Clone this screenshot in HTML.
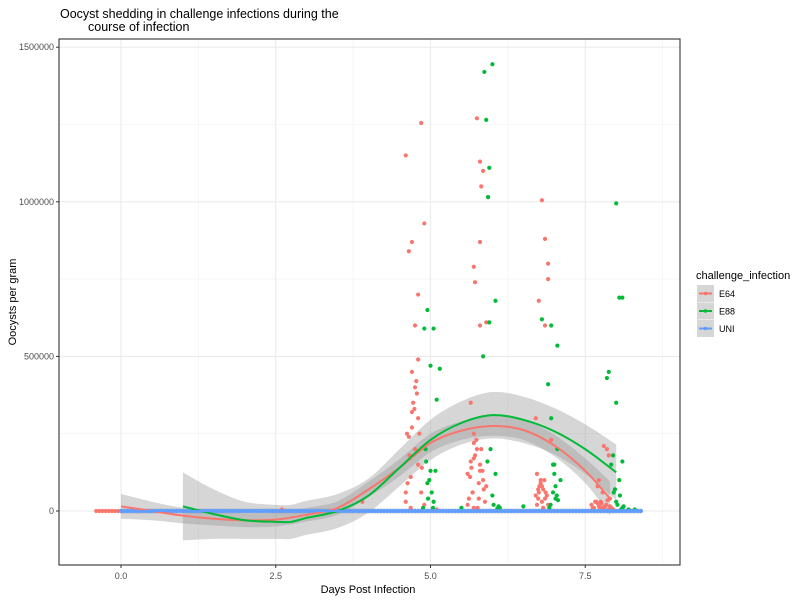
<!DOCTYPE html>
<html><head><meta charset="utf-8"><style>
body{margin:0;background:#fff;font-family:"Liberation Sans",Arial,sans-serif}
svg text{font-family:"Liberation Sans",Arial,sans-serif}
</style></head><body>
<svg id="c" width="800" height="600" xmlns="http://www.w3.org/2000/svg">
<rect width="800" height="600" fill="#fff"/>
<text x="60" y="18" font-size="12.5" fill="#000">Oocyst shedding in challenge infections during the</text>
<text x="88" y="31" font-size="12.5" fill="#000">course of infection</text>
<g id="grid"></g><g id="bands"></g><g id="pts"></g><g id="lines"></g><g id="axes"></g>
<text x="368" y="593" font-size="11" text-anchor="middle" fill="#000">Days Post Infection</text>
<text transform="translate(16,302) rotate(-90)" font-size="11" text-anchor="middle" fill="#000">Oocysts per gram</text>
<g id="legend"></g>
</svg>
<script>
const xTicks=[0,2.5,5,7.5];
const xTickLabels=["0.0","2.5","5.0","7.5"];
const yTicks=[0,500000,1000000,1500000];
const yTickLabels=["0","500000","1000000","1500000"];
const seriesNames=["E64","E88","UNI"];
const seriesColors=["#F8766D","#00BA38","#619CFF"];
const e64X=[-0.4,-0.35,-0.3,-0.25,-0.2,-0.15,-0.1,-0.05,0,0,4.6,4.85,4.9,4.7,4.65,4.8,4.75,4.8,4.7,4.75,4.78,4.7,4.8,4.65,4.75,4.8,4.68,4.85,4.9,4.72,4.62,5.75,5.8,5.85,5.82,5.7,5.72,5.8,5.9,5.65,5.8,5.7,5.75,5.8,5.85,5.9,5.78,5.7,5.6,5.65,5.68,6.8,6.85,6.9,6.75,6.85,6.9,6.7,6.8,6.75,6.85,6.9,6.95,6.72,6.78,6.82,7.8,7.85,7.7,7.75,7.8,7.9,7.95,7.72,7.78,7.88,2.6,3.9,5.1,
4.6,4.63,4.66,4.7,4.74,4.77,4.82,4.86,4.6,4.68,5.62,5.66,5.7,5.74,5.78,5.82,5.86,5.64,5.72,5.8,5.88,5.68,5.76,5.84,5.6,5.7,6.7,6.74,6.78,6.82,6.86,6.72,6.76,6.8,6.84,6.88,6.74,6.82,7.6,7.64,7.68,7.72,7.76,7.8,7.84,7.88,7.92,7.66,7.74,7.82,7.9,7.62,7.7,7.78,7.86];
const e64Y=[0,0,0,0,0,0,0,0,0,0,1150000,1255000,930000,870000,840000,700000,600000,490000,450000,400000,380000,320000,300000,240000,200000,150000,110000,60000,20000,350000,250000,1270000,1130000,1100000,1050000,790000,740000,870000,610000,350000,600000,250000,200000,130000,100000,80000,40000,10000,120000,160000,60000,1005000,880000,800000,680000,600000,750000,300000,80000,60000,40000,20000,230000,120000,100000,10000,210000,200000,80000,30000,10000,15000,5000,100000,60000,180000,5000,30000,5000,
30000,90000,180000,270000,330000,420000,250000,140000,60000,10000,40000,140000,170000,230000,90000,200000,70000,110000,180000,150000,30000,60000,10000,130000,20000,220000,50000,40000,90000,70000,60000,20000,80000,30000,100000,50000,70000,10000,20000,10000,30000,15000,25000,10000,20000,5000,10000,30000,5000,15000,40000,8000,25000,12000,35000];
const e88X=[5.87,6.0,5.9,5.95,5.93,5.85,6.05,5.95,5.97,6.05,6.0,6.1,4.95,4.9,5.05,5.0,5.15,4.93,5.0,4.95,5.05,5.1,4.88,7.05,6.95,6.8,6.9,6.95,7.05,7.0,6.98,7.02,7.1,6.92,8.0,8.05,8.1,7.88,7.85,8.0,8.1,7.95,8.05,8.0,8.1,8.2,7.98,8.3,
4.92,4.98,5.02,5.08,4.96,5.04,6.02,6.08,5.92,6.12,6.98,7.0,7.04,6.94,7.06,7.02,8.02,8.06,7.96,8.08,8.12,7.92,6.5,5.5];
const e88Y=[1420000,1445000,1265000,1110000,1015000,500000,680000,610000,200000,120000,50000,15000,650000,590000,590000,470000,460000,160000,130000,90000,30000,360000,10000,535000,600000,620000,410000,300000,200000,150000,60000,40000,100000,10000,995000,690000,690000,450000,430000,350000,160000,180000,100000,30000,10000,5000,70000,5000,
200000,100000,60000,130000,40000,10000,20000,8000,160000,10000,150000,120000,50000,20000,35000,80000,20000,50000,60000,5000,15000,150000,15000,10000];
const uniX=[];for(let d=0;d<=8.4001;d+=0.05)uniX.push(+d.toFixed(2));
const uniY=uniX.map(()=>0);
const smX64=[0,0.5,1,1.5,2,2.5,3,3.5,4,4.5,5,5.5,6,6.5,7,7.5,7.9];
const smY64=[15000,0,-15000,-25000,-30000,-28000,-12000,10000,70000,140000,220000,260000,275000,262000,212000,130000,40000];
const smW64=[40000,30000,25000,22000,22000,22000,22000,22000,25000,28000,30000,30000,32000,32000,35000,40000,55000];
const smX88=[1,1.5,2,2.5,2.75,3,3.5,4,4.5,5,5.5,6,6.5,7,7.5,8];
const smY88=[15000,-10000,-30000,-35000,-35000,-22000,0,50000,140000,230000,285000,310000,295000,258000,200000,125000];
const smW88=[110000,80000,60000,55000,55000,55000,55000,55000,60000,65000,70000,75000,75000,75000,80000,90000];
const smXU=[0,8.4];const smYU=[0,0];const smWU=[8000,8000];

const NS="http://www.w3.org/2000/svg";
const L=59,R=680,T=39,B=565;
const xs=d=>121+d*61.9;
const ys=v=>511-v*(154.6/500000);
function mk(tag,attrs,parent){const e=document.createElementNS(NS,tag);for(const k in attrs)e.setAttribute(k,attrs[k]);document.getElementById(parent).appendChild(e);return e;}
function smoothPath(P,move){let d=move?'M'+P[0][0]+','+P[0][1]:'L'+P[0][0]+','+P[0][1];for(let i=0;i<P.length-1;i++){const p0=P[Math.max(0,i-1)],p1=P[i],p2=P[i+1],p3=P[Math.min(P.length-1,i+2)];const c1=[p1[0]+(p2[0]-p0[0])/6,p1[1]+(p2[1]-p0[1])/6],c2=[p2[0]-(p3[0]-p1[0])/6,p2[1]-(p3[1]-p1[1])/6];d+='C'+c1+' '+c2+' '+p2;}return d;}

let p=mk('rect',{x:L,y:T,width:R-L,height:B-T,fill:'#fff'},'grid');


[1.25,3.75,6.25,-1.25,8.75].forEach(d=>{const x=xs(d);if(x>L&&x<R){const g=mk('line',{x1:x,x2:x,y1:T,y2:B,stroke:'#f0f0f0','stroke-width':0.6},'grid');}});
[-250000,250000,750000,1250000].forEach(v=>{const y=ys(v);if(y>T&&y<B){const g=mk('line',{x1:L,x2:R,y1:y,y2:y,stroke:'#f0f0f0','stroke-width':0.6},'grid');}});
xTicks.forEach(d=>{const g=mk('line',{x1:xs(d),x2:xs(d),y1:T,y2:B,stroke:'#ebebeb','stroke-width':1.1},'grid');});
yTicks.forEach(v=>{const g=mk('line',{x1:L,x2:R,y1:ys(v),y2:ys(v),stroke:'#ebebeb','stroke-width':1.1},'grid');});

function band(X,Y,W,name){const up=X.map((x,i)=>[xs(x),ys(Y[i]+W[i])]);const lo=X.map((x,i)=>[xs(x),ys(Y[i]-W[i])]).reverse();const d=smoothPath(up,true)+smoothPath(lo,false)+'Z';const e=mk('path',{d:d,fill:'#999',opacity:0.4},'bands');}
band(smX64,smY64,smW64,'e64-confidence-band');
band(smX88,smY88,smW88,'e88-confidence-band');
band(smXU,smYU,smWU,'uni-confidence-band');

function pts(X,Y,col,name){X.forEach((x,i)=>{const c=mk('circle',{cx:xs(x),cy:ys(Y[i]),r:2.1,fill:col},'pts');});}
pts(e64X,e64Y,seriesColors[0],'e64-point');
pts(e88X,e88Y,seriesColors[1],'e88-point');
pts(uniX,uniY,seriesColors[2],'uni-point');

function line(X,Y,col,name){const d=smoothPath(X.map((x,i)=>[xs(x),ys(Y[i])]),true);const e=mk('path',{d:d,fill:'none',stroke:col,'stroke-width':2,'stroke-linejoin':'round'},'lines');}
line(smX64,smY64,seriesColors[0],'e64-smooth-line');
line(smX88,smY88,seriesColors[1],'e88-smooth-line');
line(smXU,smYU,seriesColors[2],'uni-smooth-line');

let br=mk('rect',{x:L,y:T,width:R-L,height:B-T,fill:'none',stroke:'#333','stroke-width':1.1},'axes');


xTicks.forEach((d,i)=>{const x=xs(d);mk('line',{x1:x,x2:x,y1:B,y2:B+3,stroke:'#333'},'axes');const t=mk('text',{x:x,y:B+14,'font-size':9,'text-anchor':'middle',fill:'#4d4d4d'},'axes');t.textContent=xTickLabels[i];});
yTicks.forEach((v,i)=>{const y=ys(v);mk('line',{x1:L-3,x2:L,y1:y,y2:y,stroke:'#333'},'axes');const t=mk('text',{x:L-5,y:y+3,'font-size':9,'text-anchor':'end',fill:'#4d4d4d'},'axes');t.textContent=yTickLabels[i];});

let lt=mk('text',{x:696,y:279,'font-size':11,fill:'#000'},'legend');
lt.textContent='challenge_infection';


seriesNames.forEach((n,i)=>{const y=285+i*17.5;const g=mk('g',{},'legend');
const r=document.createElementNS(NS,'rect');r.setAttribute('x',697);r.setAttribute('y',y);r.setAttribute('width',17);r.setAttribute('height',17);r.setAttribute('fill','#d6d6d6');g.appendChild(r);
const l=document.createElementNS(NS,'line');l.setAttribute('x1',699);l.setAttribute('x2',712);l.setAttribute('y1',y+8.5);l.setAttribute('y2',y+8.5);l.setAttribute('stroke',seriesColors[i]);l.setAttribute('stroke-width',2);g.appendChild(l);
const c=document.createElementNS(NS,'circle');c.setAttribute('cx',705.5);c.setAttribute('cy',y+8.5);c.setAttribute('r',1.8);c.setAttribute('fill',seriesColors[i]);g.appendChild(c);
const t=document.createElementNS(NS,'text');t.setAttribute('x',719);t.setAttribute('y',y+12);t.setAttribute('font-size',9);t.setAttribute('fill','#000');t.textContent=n;g.appendChild(t);});
</script>
</body></html>
